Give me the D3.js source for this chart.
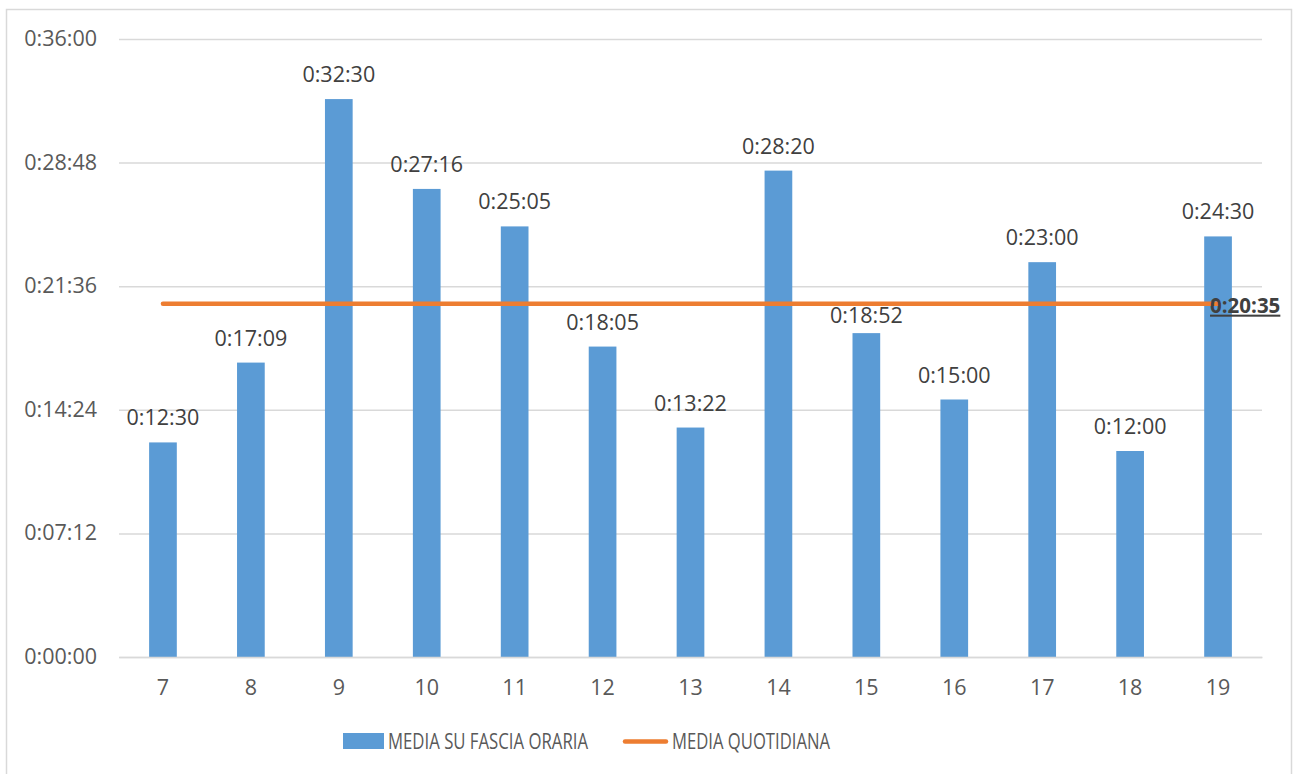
<!DOCTYPE html>
<html>
<head>
<meta charset="utf-8">
<script src="https://cdn.jsdelivr.net/npm/d3@7"></script>
<style>
  html, body { margin: 0; padding: 0; background: #ffffff; }
  svg { display: block; font-family: "Open Sans", "Noto Sans", sans-serif; }
</style>
</head>
<body>
<svg id="chart" width="1298" height="774"></svg>
<script>
// Hour slots of the day
const hours = ["7", "8", "9", "10", "11", "12", "13", "14", "15", "16", "17", "18", "19"];
// Average duration per hour slot (h:mm:ss)
const slotAverages = ["0:12:30", "0:17:09", "0:32:30", "0:27:16", "0:25:05", "0:18:05", "0:13:22",
                      "0:28:20", "0:18:52", "0:15:00", "0:23:00", "0:12:00", "0:24:30"];
// Daily average duration
const dailyAverage = "0:20:35";
// Y axis ticks
const yTickLabels = ["0:00:00", "0:07:12", "0:14:24", "0:21:36", "0:28:48", "0:36:00"];
const seriesNames = ["MEDIA SU FASCIA ORARIA", "MEDIA QUOTIDIANA"];

const toSeconds = s => s.split(":").map(Number).reduce((acc, v) => acc * 60 + v, 0);

const svg = d3.select("#chart");
const W = 1298, H = 774;
const margin = { top: 39, right: 36, bottom: 117, left: 119 };

const blue = "#5b9bd5", orange = "#ed7d31", grid = "#d9d9d9", textCol = "#595959";
const fs = 21.5;

// outer frame
svg.append("rect")
  .attr("x", 6.5).attr("y", 9.5)
  .attr("width", 1285).attr("height", 780)
  .attr("fill", "none").attr("stroke", grid).attr("stroke-width", 1.5);

const x = d3.scaleBand()
  .domain(hours)
  .range([margin.left, W - margin.right])
  .paddingInner(0.685).paddingOuter(0.3425);

const xBand = d3.scaleBand().domain(hours).range([margin.left, W - margin.right]);

const yTicks = yTickLabels.map(toSeconds);
const y = d3.scaleLinear()
  .domain([0, d3.max(yTicks)])
  .range([H - margin.bottom, margin.top]);

// horizontal gridlines + y tick labels
const yAxis = d3.axisLeft(y)
  .tickValues(yTicks)
  .tickFormat((d, i) => yTickLabels[i])
  .tickSize(-(W - margin.right - margin.left))
  .tickPadding(22);

const gy = svg.append("g")
  .attr("transform", `translate(${margin.left},0)`)
  .call(yAxis);
gy.select(".domain").remove();
gy.selectAll(".tick line").attr("stroke", grid).attr("stroke-width", 1.5);
gy.selectAll(".tick text")
  .attr("fill", textCol)
  .attr("font-size", fs)
  .attr("font-family", "Open Sans, sans-serif")
  .attr("dy", "0.3em");

// bars
const values = slotAverages.map(toSeconds);
svg.append("g").selectAll("rect")
  .data(hours)
  .join("rect")
  .attr("x", d => x(d))
  .attr("width", x.bandwidth())
  .attr("y", (d, i) => y(values[i]))
  .attr("height", (d, i) => y(0) - y(values[i]))
  .attr("fill", blue);

// x axis
const xAxis = d3.axisBottom(xBand).tickSize(0).tickPadding(23);
const gx = svg.append("g")
  .attr("transform", `translate(0,${y(0)})`)
  .call(xAxis);
gx.select(".domain").attr("stroke", grid).attr("stroke-width", 1.5);
gx.selectAll(".tick text")
  .attr("fill", textCol)
  .attr("font-size", fs)
  .attr("font-family", "Open Sans, sans-serif");

// daily average level
const dailySec = toSeconds(dailyAverage);
const lineY = y(dailySec);

// value labels above the bars; a label that would cross the daily line
// is tucked closer to its bar
const labelBaseline = v => {
  const top = y(v);
  const base = top - 17;
  const capTop = base - 16;
  return (capTop < lineY + 3 && base > lineY - 3) ? top - 10 : base;
};
svg.append("g").selectAll("text")
  .data(hours)
  .join("text")
  .attr("x", d => xBand(d) + xBand.bandwidth() / 2)
  .attr("y", (d, i) => labelBaseline(values[i]))
  .attr("text-anchor", "middle")
  .attr("fill", "#404040")
  .attr("font-size", fs)
  .text((d, i) => slotAverages[i]);

// daily average line
const cx = d => xBand(d) + xBand.bandwidth() / 2;
svg.append("line")
  .attr("x1", cx(hours[0])).attr("x2", cx(hours[hours.length - 1]))
  .attr("y1", lineY).attr("y2", lineY)
  .attr("stroke", orange).attr("stroke-width", 4.5)
  .attr("stroke-linecap", "round");

svg.append("text")
  .attr("x", cx(hours[hours.length - 1]) - 8)
  .attr("y", lineY + 9)
  .attr("fill", "#404040")
  .attr("font-size", 20.5)
  .attr("font-weight", "bold")
  .attr("text-decoration", "underline")
  .text(dailyAverage);

// legend
const lg = svg.append("g");
lg.append("rect")
  .attr("x", 343).attr("y", 733).attr("width", 41).attr("height", 16)
  .attr("fill", blue);
lg.append("text")
  .attr("x", 388).attr("y", 749)
  .attr("fill", textCol).attr("font-size", fs)
  .attr("textLength", 200).attr("lengthAdjust", "spacingAndGlyphs")
  .text(seriesNames[0]);
lg.append("line")
  .attr("x1", 625).attr("x2", 666).attr("y1", 741.5).attr("y2", 741.5)
  .attr("stroke", orange).attr("stroke-width", 4.5).attr("stroke-linecap", "round");
lg.append("text")
  .attr("x", 672).attr("y", 749)
  .attr("fill", textCol).attr("font-size", fs)
  .attr("textLength", 158).attr("lengthAdjust", "spacingAndGlyphs")
  .text(seriesNames[1]);
</script>
</body>
</html>
